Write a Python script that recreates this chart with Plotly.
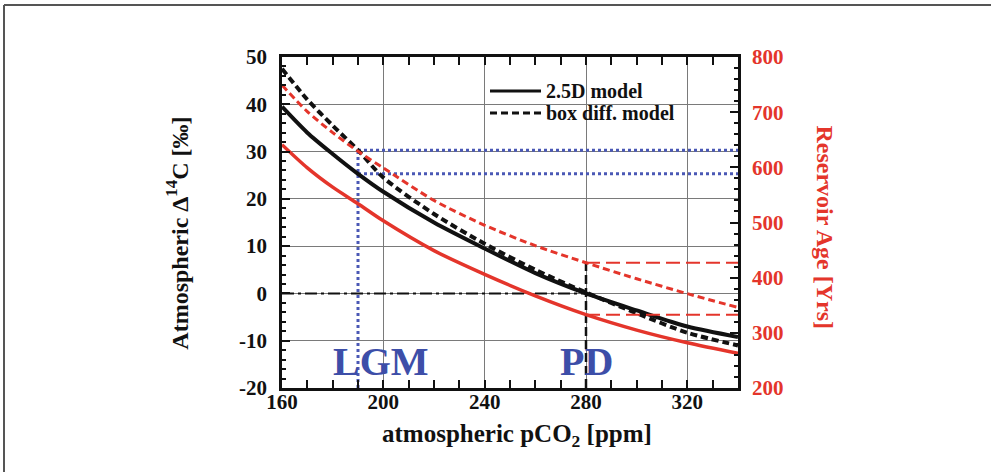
import plotly.graph_objects as go

# Atmospheric pCO2 (ppm) at which the model curves are sampled
PCO2 = [160, 170, 180, 190, 200, 220, 240, 260, 280, 300, 320, 340]

# Atmospheric Delta14C (permil), left axis
D14C_2P5D = [39.5, 34.0, 29.5, 25.3, 21.5, 15.0, 9.5, 4.3, 0.0, -3.6, -7.0, -9.2]
D14C_BOX = [47.5, 41.0, 35.5, 30.3, 24.5, 16.8, 10.5, 5.0, 0.2, -4.2, -8.3, -11.0]

# Surface reservoir age (years), right axis
AGE_2P5D = [641, 599, 564, 534, 503, 449, 406, 367, 333, 305, 282, 263]
AGE_BOX = [749, 701, 663, 629, 599, 540, 495, 458, 427, 398, 371, 346]

# Reference states
LGM_PCO2 = 190
PD_PCO2 = 280

# Legend entries
LEGEND_LABELS = ["2.5D model", "box diff. model"]

# Axis ticks
X_TICKS = [160, 200, 240, 280, 320]
Y_TICKS = [-20, -10, 0, 10, 20, 30, 40, 50]
Y2_TICKS = [200, 300, 400, 500, 600, 700, 800]

X_RANGE = [160, 340]
Y_RANGE = [-20, 50]
Y2_RANGE = [200, 800]

BLACK = "#111111"
RED = "#e4352b"
BLUE = "#4a58b5"
TEXT_BLUE = "#3d4ea8"
SERIF = "Liberation Serif, Times New Roman, serif"
BOX_DASH = "7px,4px"

i_lgm = PCO2.index(LGM_PCO2)
i_pd = PCO2.index(PD_PCO2)

fig = go.Figure()

# LGM guide lines (blue dotted)
fig.add_trace(go.Scatter(
    x=[LGM_PCO2, LGM_PCO2], y=[Y_RANGE[0], D14C_BOX[i_lgm]],
    mode="lines", line=dict(color=BLUE, width=3, dash="dot"),
    showlegend=False, hoverinfo="skip"))
for val in (D14C_BOX[i_lgm], D14C_2P5D[i_lgm]):
    fig.add_trace(go.Scatter(
        x=[LGM_PCO2, X_RANGE[1]], y=[val, val],
        mode="lines", line=dict(color=BLUE, width=3, dash="dot"),
        showlegend=False, hoverinfo="skip"))

# PD guide lines
fig.add_trace(go.Scatter(
    x=[X_RANGE[0], PD_PCO2], y=[D14C_2P5D[i_pd], D14C_2P5D[i_pd]],
    mode="lines", line=dict(color=BLACK, width=2, dash="12px,4px,3px,4px"),
    showlegend=False, hoverinfo="skip"))
fig.add_trace(go.Scatter(
    x=[PD_PCO2, PD_PCO2], y=[Y2_RANGE[0], AGE_BOX[i_pd]], yaxis="y2",
    mode="lines", line=dict(color=BLACK, width=2.5, dash="9px,4px"),
    showlegend=False, hoverinfo="skip"))
for val in (AGE_BOX[i_pd], AGE_2P5D[i_pd]):
    fig.add_trace(go.Scatter(
        x=[PD_PCO2, X_RANGE[1]], y=[val, val], yaxis="y2",
        mode="lines", line=dict(color=RED, width=2, dash="14px,6px"),
        showlegend=False, hoverinfo="skip"))

# Reservoir age curves (right axis)
fig.add_trace(go.Scatter(
    x=PCO2, y=AGE_2P5D, yaxis="y2", mode="lines",
    line=dict(color=RED, width=3.5, shape="spline", smoothing=0.8),
    showlegend=False))
fig.add_trace(go.Scatter(
    x=PCO2, y=AGE_BOX, yaxis="y2", mode="lines",
    line=dict(color=RED, width=3, dash=BOX_DASH, shape="spline", smoothing=0.8),
    showlegend=False))

# Delta14C curves (left axis)
fig.add_trace(go.Scatter(
    x=PCO2, y=D14C_2P5D, mode="lines", name=LEGEND_LABELS[0],
    line=dict(color=BLACK, width=4, shape="spline", smoothing=0.8),
    showlegend=False))
fig.add_trace(go.Scatter(
    x=PCO2, y=D14C_BOX, mode="lines", name=LEGEND_LABELS[1],
    line=dict(color=BLACK, width=4, dash=BOX_DASH, shape="spline", smoothing=0.8),
    showlegend=False))

tick_font = dict(family=SERIF, size=21, color=BLACK, weight="bold")

fig.update_layout(
    width=991, height=472,
    margin=dict(l=282, r=253, t=57, b=84),
    paper_bgcolor="white", plot_bgcolor="white",
    font=dict(family=SERIF, color=BLACK),
    showlegend=False,
    xaxis=dict(
        range=X_RANGE, tickvals=X_TICKS, ticktext=[str(v) for v in X_TICKS],
        ticks="inside", ticklen=8, tickwidth=1.5, tickcolor=BLACK,
        minor=dict(dtick=10, ticks="inside", ticklen=4, tickcolor=BLACK, showgrid=False),
        showline=True, linecolor=BLACK, linewidth=2.5, mirror="allticks",
        showgrid=True, gridcolor="#7a7a7a", gridwidth=1,
        zeroline=False, tickfont=tick_font,
        ticklabelstandoff=-7,
    ),
    yaxis=dict(
        range=Y_RANGE, tickvals=Y_TICKS, ticktext=[str(v) for v in Y_TICKS],
        ticks="inside", ticklen=8, tickwidth=1.5, tickcolor=BLACK,
        minor=dict(dtick=2, ticks="inside", ticklen=4, tickcolor=BLACK, showgrid=False),
        showline=True, linecolor=BLACK, linewidth=2.5, mirror=True,
        showgrid=True, gridcolor="#7a7a7a", gridwidth=1,
        zeroline=False, tickfont=tick_font,
        ticklabelstandoff=8,
    ),
    yaxis2=dict(
        range=Y2_RANGE, tickvals=Y2_TICKS, ticktext=[str(v) for v in Y2_TICKS],
        overlaying="y", side="right",
        ticks="inside", ticklen=8, tickwidth=1.5, tickcolor=BLACK,
        minor=dict(dtick=20, ticks="inside", ticklen=4, tickcolor=BLACK, showgrid=False),
        showline=True, linecolor=BLACK, linewidth=2.5,
        showgrid=False, zeroline=False,
        tickfont=dict(family=SERIF, size=21, color=RED, weight="bold"),
        ticklabelstandoff=7,
    ),
)

# Axis titles
fig.add_annotation(
    text="Atmospheric \u0394<sup>14</sup>C [\u2030]", xref="paper", yref="paper",
    x=-0.229, y=0.468, xanchor="center", yanchor="middle",
    textangle=-90, showarrow=False,
    font=dict(family=SERIF, size=24, color=BLACK, weight="bold"))
fig.add_annotation(
    text="Reservoir Age [Yrs]", xref="paper", yref="paper",
    x=1.19, y=0.486, xanchor="center", yanchor="middle",
    textangle=90, showarrow=False,
    font=dict(family=SERIF, size=24, color=RED, weight="bold"))
fig.add_annotation(
    text="atmospheric pCO<sub>2</sub> [ppm]", xref="paper", yref="paper",
    x=0.515, y=-0.142, xanchor="center", yanchor="middle", showarrow=False,
    font=dict(family=SERIF, size=25, color=BLACK, weight="bold"))

# State labels
fig.add_annotation(
    text="LGM", x=199, y=-14.5, showarrow=False,
    font=dict(family=SERIF, size=40, color=TEXT_BLUE, weight="bold"))
fig.add_annotation(
    text="PD", x=PD_PCO2, y=-14.5, showarrow=False,
    font=dict(family=SERIF, size=40, color=TEXT_BLUE, weight="bold"))

# Pixel -> paper helpers for the plot area (282..738 x 57..388)
px = lambda p: (p - 282) / 456
py = lambda p: (388 - p) / 331

# Legend key: line samples and labels
for k, (label, dash) in enumerate(zip(LEGEND_LABELS, ["solid", BOX_DASH])):
    yk = py(91 + 22 * k)
    fig.add_shape(type="line", xref="paper", yref="paper",
                  x0=px(490), x1=px(541), y0=yk, y1=yk,
                  line=dict(color=BLACK, width=3, dash=dash))
    fig.add_annotation(
        text=label, xref="paper", yref="paper",
        x=px(545), y=yk, xanchor="left", yanchor="middle", showarrow=False,
        height=18, valign="middle", borderpad=0,
        font=dict(family=SERIF, size=20, color=BLACK, weight="bold"))

# Page frame (top and left edges)
fig.add_shape(type="line", xref="paper", yref="paper",
              x0=px(4), x1=px(991), y0=py(5), y1=py(5),
              line=dict(color="#555555", width=2))
fig.add_shape(type="line", xref="paper", yref="paper",
              x0=px(4), x1=px(4), y0=py(5), y1=py(472),
              line=dict(color="#555555", width=2))

fig.write_html("out.html")
